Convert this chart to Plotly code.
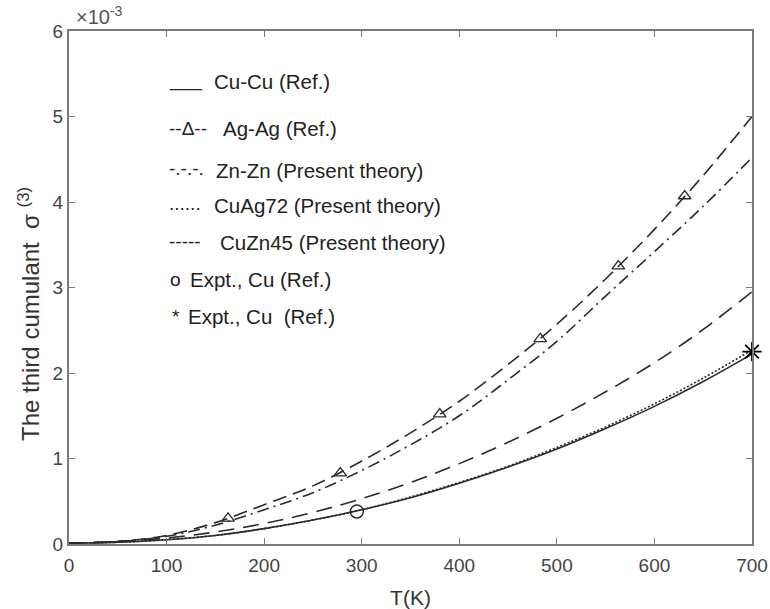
import plotly.graph_objects as go

T = [0, 50, 100, 150, 200, 250, 300, 350, 400, 450, 500, 550, 600, 650, 700]
cu_cu = [0.01, 0.02, 0.05, 0.10, 0.18, 0.28, 0.40, 0.54, 0.71, 0.90, 1.11, 1.35, 1.61, 1.90, 2.22]
ag_ag = [0.01, 0.03, 0.10, 0.25, 0.46, 0.68, 0.97, 1.30, 1.67, 2.10, 2.57, 3.10, 3.68, 4.31, 5.00]
zn_zn = [0.01, 0.03, 0.09, 0.22, 0.40, 0.60, 0.86, 1.16, 1.50, 1.92, 2.37, 2.90, 3.42, 3.95, 4.52]
cuag72 = [0.01, 0.02, 0.05, 0.10, 0.18, 0.28, 0.40, 0.55, 0.72, 0.91, 1.13, 1.37, 1.64, 1.94, 2.27]
cuzn45 = [0.01, 0.03, 0.07, 0.14, 0.24, 0.37, 0.53, 0.72, 0.94, 1.19, 1.47, 1.78, 2.12, 2.51, 2.95]

ag_marker_T = [163, 278, 380, 483, 563, 631]
ag_marker_v = [0.30, 0.83, 1.52, 2.40, 3.25, 4.07]

expt_circle_T = [295]
expt_circle_v = [0.38]
expt_star_T = [700]
expt_star_v = [2.25]

legend_symbols = ["___", "--Δ--", "-.-.-.", "......", "-----", "o", "*"]
legend_labels = ["Cu-Cu (Ref.)", "Ag-Ag (Ref.)", "Zn-Zn (Present theory)", "CuAg72 (Present theory)",
                 "CuZn45 (Present theory)", "Expt., Cu (Ref.)", "Expt., Cu  (Ref.)"]

xticks = [0, 100, 200, 300, 400, 500, 600, 700]
yticks = [0, 1, 2, 3, 4, 5, 6]

LC = "#2a2a2a"
fig = go.Figure()
fig.add_trace(go.Scatter(x=T, y=cu_cu, mode="lines", line=dict(color=LC, width=1.6, shape="spline")))
fig.add_trace(go.Scatter(x=T, y=ag_ag, mode="lines", line=dict(color=LC, width=1.6, dash="14px,7px", shape="spline")))
fig.add_trace(go.Scatter(x=ag_marker_T, y=ag_marker_v, mode="markers",
                         marker=dict(symbol="triangle-up-open", size=11, color=LC, line=dict(width=1.3))))
fig.add_trace(go.Scatter(x=T, y=zn_zn, mode="lines", line=dict(color=LC, width=1.6, dash="12px,5px,2px,5px", shape="spline")))
fig.add_trace(go.Scatter(x=T, y=cuag72, mode="lines", line=dict(color=LC, width=1.6, dash="2px,2px", shape="spline")))
fig.add_trace(go.Scatter(x=T, y=cuzn45, mode="lines", line=dict(color=LC, width=1.6, dash="16px,9px", shape="spline")))
fig.add_trace(go.Scatter(x=expt_circle_T, y=expt_circle_v, mode="markers",
                         marker=dict(symbol="circle-open", size=13, color=LC, line=dict(width=1.5))))
fig.add_trace(go.Scatter(x=expt_star_T, y=expt_star_v, mode="markers",
                         marker=dict(symbol="asterisk-open", size=16, color="black", line=dict(width=1.8, color="black")),
                         cliponaxis=False))

L, R, TOP, BOT = 69, 752, 31, 544
def px(x):
    return (x - L) / (R - L)
def py(y):
    return (BOT - y) / (BOT - TOP)

ann = []
sym_pos = [(167, 80), (167, 128), (167, 168), (167, 203), (167, 241), (168, 279), (170, 316)]
lab_pos = [(212, 81), (221, 128), (214, 170), (212, 205), (218, 242), (188, 279), (186, 316)]
for s, l, (sx, sy), (lx, ly) in zip(legend_symbols, legend_labels, sym_pos, lab_pos):
    ann.append(dict(x=px(sx), y=py(sy), xref="paper", yref="paper", text=s, showarrow=False,
                    xanchor="left", yanchor="middle", font=dict(size=19, color="#222")))
    ann.append(dict(x=px(lx), y=py(ly), xref="paper", yref="paper", text=l, showarrow=False,
                    xanchor="left", yanchor="middle", font=dict(size=20.5, color="#222")))
ann.append(dict(x=px(74), y=py(15), xref="paper", yref="paper", text="×10<sup>-3</sup>", showarrow=False,
                xanchor="left", yanchor="middle", font=dict(size=20, color="#555")))
ann.append(dict(x=px(29), y=py(314), xref="paper", yref="paper", text="The third cumulant  σ <sup>(3)</sup>",
                showarrow=False, textangle=-90, xanchor="center", yanchor="middle",
                font=dict(size=24, color="#333")))

axis_common = dict(showline=True, linecolor="#7a7a7a", linewidth=2, mirror="ticks", ticks="inside",
                   ticklen=6, tickwidth=1.3, tickcolor="#7a7a7a", showgrid=False, zeroline=False,
                   automargin=False, tickfont=dict(size=19, color="#444"))

fig.update_layout(
    width=770, height=609,
    margin=dict(l=L, r=770 - R, t=TOP, b=609 - BOT),
    plot_bgcolor="white", paper_bgcolor="white",
    showlegend=False,
    font=dict(family="Liberation Sans, Arial, sans-serif", color="#333"),
    xaxis=dict(range=[0, 700], tickvals=xticks, ticklabelstandoff=3,
               title=dict(text="T(K)", font=dict(size=21, color="#333"), standoff=16), **axis_common),
    yaxis=dict(range=[0, 6], tickvals=yticks, **axis_common),
    annotations=ann,
)

fig.write_html("out.html", config={"displayModeBar": False},
               post_script="document.body.style.margin='0';document.body.style.overflow='hidden';")
